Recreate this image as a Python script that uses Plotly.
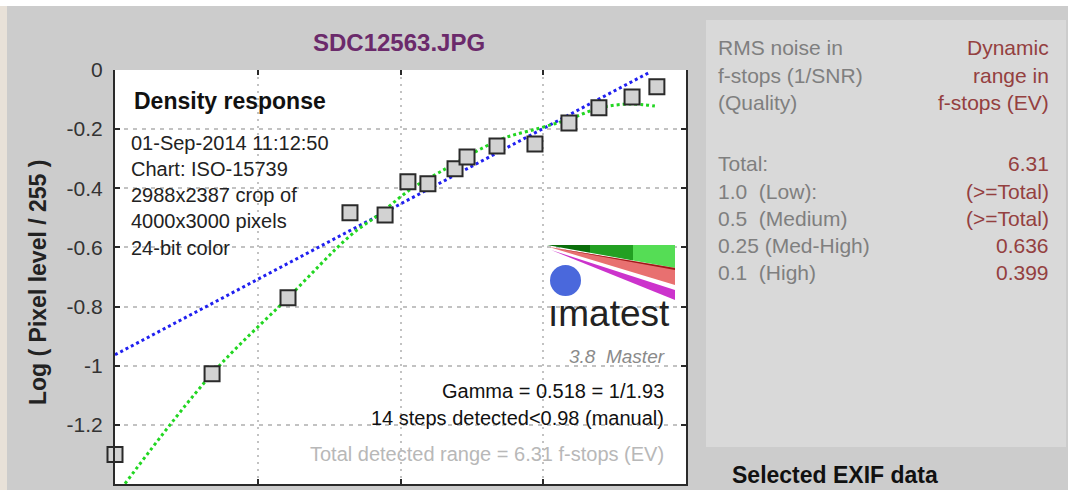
import plotly.graph_objects as go

# ---------------- data ----------------
step_log_exposure = [-2.0, -1.660, -1.394, -1.177, -1.054, -0.974, -0.904, -0.809,
                     -0.767, -0.662, -0.529, -0.410, -0.305, -0.189, -0.102]
step_log_pixel = [-1.300, -1.027, -0.770, -0.483, -0.490, -0.378, -0.385, -0.334,
                  -0.294, -0.257, -0.250, -0.179, -0.128, -0.091, -0.057]

fit_x = [-1.965, -1.660, -1.394, -1.177, -1.072, -0.967, -0.862,
         -0.652, -0.511, -0.417, -0.301, -0.196, -0.109]
fit_y = [-1.399, -1.027, -0.770, -0.561, -0.486, -0.405, -0.345,
         -0.236, -0.196, -0.169, -0.128, -0.115, -0.122]

gamma_x = [-2.0, -0.126]
gamma_y = [-0.963, -0.007]

y_ticks = [0, -0.2, -0.4, -0.6, -0.8, -1.0, -1.2]
y_tick_text = ["0", "-0.2", "-0.4", "-0.6", "-0.8", "-1", "-1.2"]
x_ticks = [-2.0, -1.5, -1.0, -0.5, 0.0]

info_lines = ["01-Sep-2014 11:12:50", "Chart: ISO-15739", "2988x2387 crop of",
              "4000x3000 pixels", "24-bit color"]
panel_left = ["RMS noise in", "f-stops (1/SNR)", "(Quality)", "Total:",
              "1.0  (Low):", "0.5  (Medium)", "0.25 (Med-High)", "0.1  (High)"]
panel_right = ["Dynamic", "range in", "f-stops (EV)", "6.31",
               "(>=Total)", "(>=Total)", "0.636", "0.399"]

# ---------------- layout helpers ----------------
W, H = 1068, 490
def fx(px):
    return px / W
def fy(py):
    return 1 - py / H

FONT = "Arial, Liberation Sans, sans-serif"

fig = go.Figure()

fig.add_trace(go.Scatter(x=gamma_x, y=gamma_y, mode="lines",
                         line=dict(color="#2020f0", width=3, dash="3px,3px"),
                         showlegend=False, hoverinfo="skip"))
fig.add_trace(go.Scatter(x=fit_x, y=fit_y, mode="lines", line_shape="spline",
                         line=dict(color="#22d622", width=3, dash="3px,3px"),
                         showlegend=False, hoverinfo="skip"))
fig.add_trace(go.Scatter(x=step_log_exposure, y=step_log_pixel, mode="markers",
                         marker=dict(symbol="square", size=15, color="#d2d2d2",
                                     line=dict(color="#2a2a2a", width=2)),
                         cliponaxis=False, showlegend=False))

axis_common = dict(showline=True, linecolor="#2a2a2a", linewidth=2,
                   ticks="inside", ticklen=5, tickcolor="#2a2a2a", tickwidth=1.5,
                   zeroline=False, showgrid=True, gridcolor="#c2c2c2",
                   gridwidth=1.5, automargin=False)

fig.update_layout(
    width=W, height=H,
    margin=dict(l=0, r=0, t=0, b=0, pad=0, autoexpand=False),
    paper_bgcolor="#cccccc",
    plot_bgcolor="white",
    font=dict(family=FONT, color="#333"),
    xaxis=dict(axis_common, domain=[fx(115), fx(686)], range=[-2.0, 0.0],
               tickvals=x_ticks, showticklabels=False, griddash="2px,5px",
               anchor="y"),
    xaxis2=dict(overlaying="x", matches="x", side="top", anchor="y",
                range=[-2.0, 0.0], tickvals=x_ticks, ticks="inside", ticklen=5,
                tickcolor="#2a2a2a", tickwidth=1.5, showline=False,
                showgrid=False, showticklabels=False, zeroline=False,
                automargin=False),
    yaxis=dict(axis_common, domain=[fy(484), fy(70)], range=[-1.4, 0.0],
               tickvals=y_ticks, ticktext=y_tick_text, mirror="ticks",
               griddash="4px,5px", ticklabelstandoff=6,
               tickfont=dict(size=21, color="#333", family=FONT)),
)
# invisible trace to materialize the top axis
fig.add_trace(go.Scatter(x=[None], y=[None], xaxis="x2", yaxis="y",
                         showlegend=False, hoverinfo="skip"))

shapes = []
# border strips
shapes.append(dict(type="rect", xref="paper", yref="paper", x0=0, x1=1,
                   y0=fy(6), y1=1, fillcolor="#ffffff", line_width=0, layer="below"))
shapes.append(dict(type="rect", xref="paper", yref="paper", x0=0, x1=fx(7),
                   y0=0, y1=fy(6), fillcolor="#e8e1d8", line_width=0, layer="below"))
# right panel
shapes.append(dict(type="rect", xref="paper", yref="paper", x0=fx(706), x1=fx(1066),
                   y0=fy(447), y1=fy(20), fillcolor="#d9d9d9", line_width=0,
                   layer="below"))

def poly(pts, color):
    d = "M " + " L ".join(f"{fx(a)},{fy(b)}" for a, b in pts) + " Z"
    return dict(type="path", xref="paper", yref="paper", path=d,
                fillcolor=color, line_width=0, layer="above")

# imatest logo
shapes.append(poly([(547, 245), (590, 245), (590, 252.7)], "#0a6e0a"))
shapes.append(poly([(590, 245), (633, 245), (633, 260.4), (590, 252.7)], "#22a022"))
shapes.append(poly([(633, 245), (675, 245), (675, 268), (633, 260.4)], "#55dd55"))
shapes.append(poly([(549, 247), (675, 268), (675, 285)], "#e87070"))
shapes.append(poly([(549, 247), (675, 268), (675, 270)], "#a01818"))
shapes.append(poly([(551, 250), (675, 290), (675, 300)], "#cc33cc"))
shapes.append(dict(type="circle", xref="paper", yref="paper", x0=fx(550), x1=fx(581),
                   y0=fy(296), y1=fy(265), fillcolor="#4a68dc", line_width=0,
                   layer="above"))
fig.update_layout(shapes=shapes)

ann = []
def text(px, py, s, size, color="#222", xanchor="left", bold=False, angle=0):
    if bold:
        s = f"<b>{s}</b>"
    ann.append(dict(x=fx(px), y=fy(py), xref="paper", yref="paper", text=s,
                    showarrow=False, xanchor=xanchor, yanchor="middle",
                    textangle=angle,
                    font=dict(size=size, color=color, family=FONT)))

text(399, 43, "SDC12563.JPG", 24, "#6b2a6b", "center", bold=True)
text(38, 283, "Log ( Pixel level / 255 )", 23, "#222", "center", bold=True, angle=-90)
text(132, 101, "Density response", 23, "#111", bold=True)
for i, (s, py) in enumerate(zip(info_lines, [143, 169, 195, 221, 248])):
    text(129, py, s, 20, "#222")
text(609, 313, "ımatest", 37, "#222", "center")
text(667, 356, "<i>3.8  Master</i>", 19, "#8a8a8a", "right")
text(666, 391, "Gamma = 0.518 = 1/1.93", 20, "#111", "right")
text(666, 418, "14 steps detected<0.98 (manual)", 20, "#111", "right")
text(666, 454, "Total detected range = 6.31 f-stops (EV)", 20, "#b8b8b8", "right")

rows_y = [47, 76, 103, 163, 191, 218, 245, 272]
for s, py in zip(panel_left, rows_y):
    text(716, py, s, 21, "#7f7f7f")
for s, py in zip(panel_right, rows_y):
    text(1051, py, s, 21, "#944040", "right")
text(730, 475, "Selected EXIF data", 23, "#111", bold=True)

fig.update_layout(annotations=ann)
fig.write_html(
    "out.html",
    config={"displayModeBar": False},
    post_script=(
        "document.body.style.margin='0px';document.body.style.padding='0px';"
        "document.body.style.overflow='hidden';"
        "var gd=document.getElementById('{plot_id}');"
        "gd.style.position='fixed';gd.style.top='0px';gd.style.left='0px';"
    ),
)
